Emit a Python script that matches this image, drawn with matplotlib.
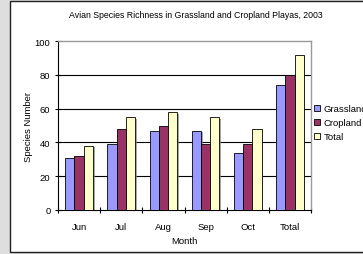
import matplotlib

matplotlib.use("Agg")
import matplotlib.pyplot as plt
import matplotlib.patches as mpatches
import matplotlib.patheffects as pe
import numpy as np

months = ["Jun", "Jul", "Aug", "Sep", "Oct", "Total"]
grassland = [31, 39, 47, 47, 34, 74]
cropland = [32, 48, 50, 39, 39, 80]
total = [38, 55, 58, 55, 48, 92]

plt.rcParams["font.family"] = ["Liberation Sans", "DejaVu Sans"]

W, H = 363, 255
fig = plt.figure(figsize=(W / 100, H / 100), dpi=100)
fig.patch.set_facecolor("#dedede")

# white chart area with dark frame (runs off the right edge)
frame = mpatches.Rectangle((10 / W, 2 / H), 1.2, 251 / H, transform=fig.transFigure,
                           facecolor="white", edgecolor="#202020", lw=1.0, zorder=-5)
fig.patches.append(frame)

ax = fig.add_axes([58 / W, (H - 211) / H, 253 / W, 169 / H])
ax.set_zorder(1)
ax.set_facecolor("white")

x = np.arange(len(months))
bw = 0.22
shadow = [pe.SimplePatchShadow(offset=(1.2, -1.2), shadow_rgbFace="#808080", alpha=0.7), pe.Normal()]
series = [(grassland, "#9999FF", "Grassland"), (cropland, "#993366", "Cropland"), (total, "#FFFFCC", "Total")]
for i, (vals, col, lab) in enumerate(series):
    bars = ax.bar(x + (i - 1) * bw, vals, bw, color=col, edgecolor="black", lw=0.6, label=lab, zorder=3)
    for b in bars:
        b.set_path_effects(shadow)

ax.set_xlim(-0.5, 5.5)
ax.set_ylim(0, 100)
ax.set_yticks([0, 20, 40, 60, 80, 100])
for yv in [20, 40, 60, 80]:
    ax.axhline(yv, color="black", lw=0.8, zorder=1)

ax.set_xticks(x)
ax.set_xticklabels(months)
ax.set_xticks(np.arange(-0.5, 6, 1), minor=True)
ax.tick_params(axis="x", which="major", length=0, labelsize=6.8, pad=9)
ax.tick_params(axis="x", which="minor", direction="inout", length=5, width=0.8)
ax.tick_params(axis="y", direction="inout", length=4.8, width=0.8, labelsize=6.8, pad=3)

for s in ["top", "right"]:
    ax.spines[s].set_color("#9a9a9a")
    ax.spines[s].set_linewidth(1.0)
for s in ["left", "bottom"]:
    ax.spines[s].set_color("black")
    ax.spines[s].set_linewidth(0.8)

ax.set_xlabel("Month", fontsize=6.8, labelpad=3)
ax.set_ylabel("Species Number", fontsize=6.8, labelpad=1)
fig.text(196 / W, 1 - 16 / H, "Avian Species Richness in Grassland and Cropland Playas, 2003",
         fontsize=6.3, ha="center", va="center")

handles = [mpatches.Patch(facecolor=c, edgecolor="black", lw=0.6) for _, c, _ in series]
fig.legend(handles, [l for _, _, l in series], loc="upper left",
           bbox_to_anchor=(314 / W, 1 - 105 / H), frameon=False, fontsize=6.8,
           handlelength=0.65, handleheight=0.65, handletextpad=0.35, labelspacing=0.55,
           borderaxespad=0, borderpad=0)

fig.savefig("out.png", dpi=100)
